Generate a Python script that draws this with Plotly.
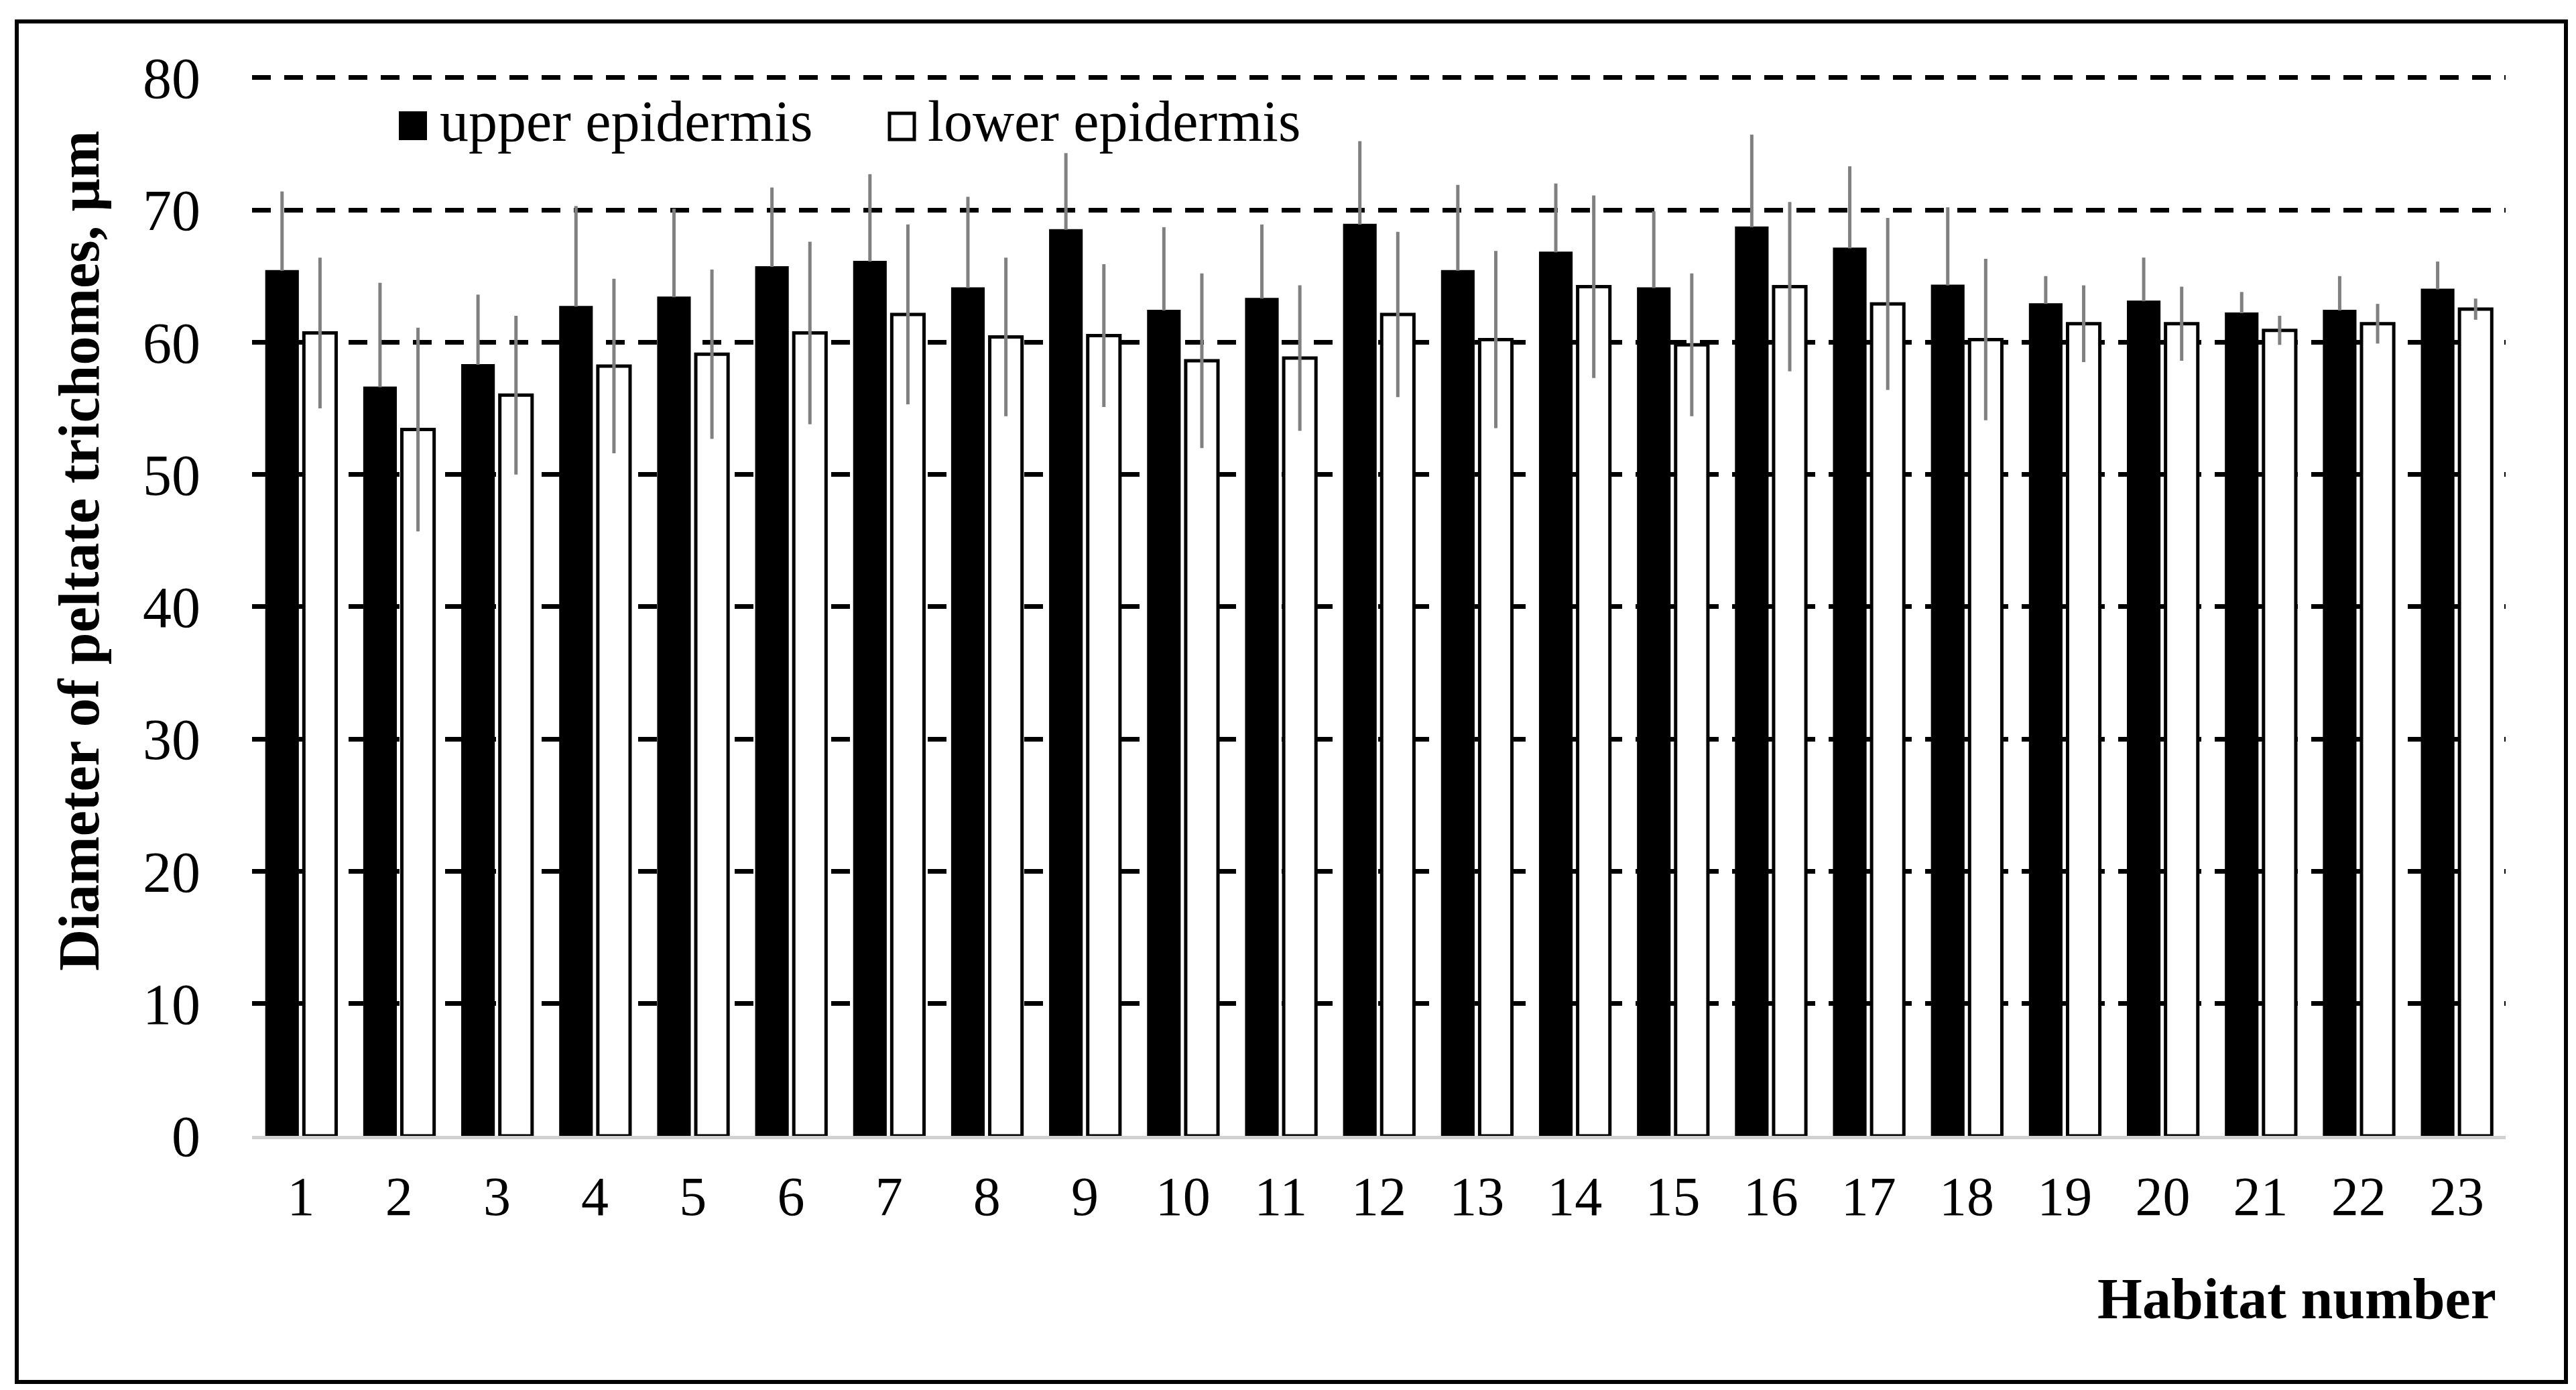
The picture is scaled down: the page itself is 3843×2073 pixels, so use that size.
import plotly.graph_objects as go

habitats = [str(i) for i in range(1, 24)]
upper_mean = [65.4, 56.6, 58.3, 62.7, 63.4, 65.7, 66.1, 64.1, 68.5, 62.4, 63.3, 68.9,
              65.4, 66.8, 64.1, 68.7, 67.1, 64.3, 62.9, 63.1, 62.2, 62.4, 64.0]
upper_err = [6.0, 7.9, 5.3, 7.6, 6.7, 6.0, 6.6, 6.9, 5.8, 6.3, 5.6, 6.3,
             6.5, 5.2, 5.8, 7.0, 6.2, 5.9, 2.1, 3.3, 1.6, 2.6, 2.1]
upper_err_minus = [0] * 23
lower_mean = [60.7, 53.4, 56.0, 58.2, 59.1, 60.7, 62.1, 60.4, 60.5, 58.6, 58.8, 62.1,
              60.2, 64.2, 59.8, 64.2, 62.9, 60.2, 61.4, 61.4, 60.9, 61.4, 62.5]
lower_err = [5.7, 7.7, 6.0, 6.6, 6.4, 6.9, 6.8, 6.0, 5.4, 6.6, 5.5, 6.25,
             6.7, 6.9, 5.4, 6.4, 6.5, 6.1, 2.9, 2.8, 1.1, 1.5, 0.8]
y_ticks = [0, 10, 20, 30, 40, 50, 60, 70, 80]
grid_vals = [10, 20, 30, 40, 50, 60, 70, 80]
y_range = [0, 80.5]

FONT = "Liberation Serif"
W, H = 3843, 2073
# plot area: y=0 at 1686 px, y=80 at 110 px
Y0_PX, Y80_PX = 1686, 108
px_per_unit = (Y0_PX - Y80_PX) / 80.0
T = int(round(Y0_PX - px_per_unit * y_range[1]))
L, R, B = 368, 113, H - Y0_PX
pw, ph = W - L - R, H - T - B

def px_x(x):
    return (x - L) / pw

def px_y(y):
    return (H - B - y) / ph

fig = go.Figure()
fig.add_trace(go.Bar(
    x=habitats, y=upper_mean, name="upper epidermis",
    marker=dict(color="black", line=dict(color="black", width=2)),
    error_y=dict(type="data", symmetric=False, array=upper_err, arrayminus=upper_err_minus,
                 color="#808080", thickness=5, width=0),
    showlegend=False,
))
fig.add_trace(go.Bar(
    x=habitats, y=lower_mean, name="lower epidermis",
    marker=dict(color="white", line=dict(color="black", width=5)),
    error_y=dict(type="data", array=lower_err, color="#808080", thickness=5, width=0),
    showlegend=False,
))

# manual legend
fig.add_shape(type="rect", xref="paper", yref="paper",
              x0=px_x(588), x1=px_x(628), y0=px_y(200), y1=px_y(159),
              fillcolor="black", line=dict(color="black", width=2))
fig.add_annotation(xref="paper", yref="paper", x=px_x(646), y=px_y(173),
                   text="upper epidermis", showarrow=False, xanchor="left", yanchor="middle",
                   font=dict(family=FONT, size=86, color="black"))
fig.add_shape(type="rect", xref="paper", yref="paper",
              x0=px_x(1319), x1=px_x(1356), y0=px_y(200), y1=px_y(161),
              fillcolor="white", line=dict(color="black", width=5))
fig.add_annotation(xref="paper", yref="paper", x=px_x(1374), y=px_y(173),
                   text="lower epidermis", showarrow=False, xanchor="left", yanchor="middle",
                   font=dict(family=FONT, size=86, color="black"))

# axis titles
fig.add_annotation(xref="paper", yref="paper", x=px_x(110), y=px_y(814),
                   text="<b>Diameter of peltate trichomes, μm</b>", textangle=-90,
                   showarrow=False, xanchor="center", yanchor="middle",
                   font=dict(family=FONT, size=86, color="black"))
fig.add_annotation(xref="paper", yref="paper", x=px_x(3718), y=px_y(1929),
                   text="<b>Habitat number</b>", showarrow=False,
                   xanchor="right", yanchor="middle",
                   font=dict(family=FONT, size=86, color="black"))

# outer border
fig.add_shape(type="rect", xref="paper", yref="paper",
              x0=px_x(17), x1=px_x(3820), y0=px_y(2053), y1=px_y(24),
              line=dict(color="black", width=6), fillcolor="rgba(0,0,0,0)", layer="below")

fig.update_layout(
    width=W, height=H,
    margin=dict(l=L, r=R, t=T, b=B),
    paper_bgcolor="white", plot_bgcolor="white",
    barmode="group", bargap=0.225, bargroupgap=0.15,
    font=dict(family=FONT, color="black"),
    xaxis=dict(type="category", showgrid=False, ticks="", showline=True,
               linecolor="#d0d0d0", linewidth=5,
               tickfont=dict(family=FONT, size=82, color="black"),
               ticklabelstandoff=15),
    yaxis=dict(range=y_range, tickvals=y_ticks, showgrid=False, zeroline=False,
               showline=False, ticks="",
               tickfont=dict(family=FONT, size=86, color="black"),
               ticklabelstandoff=76,
               minor=dict(tickvals=grid_vals, showgrid=True, gridcolor="black",
                          gridwidth=7, griddash="28px,20px")),
)

fig.write_html("out.html")
